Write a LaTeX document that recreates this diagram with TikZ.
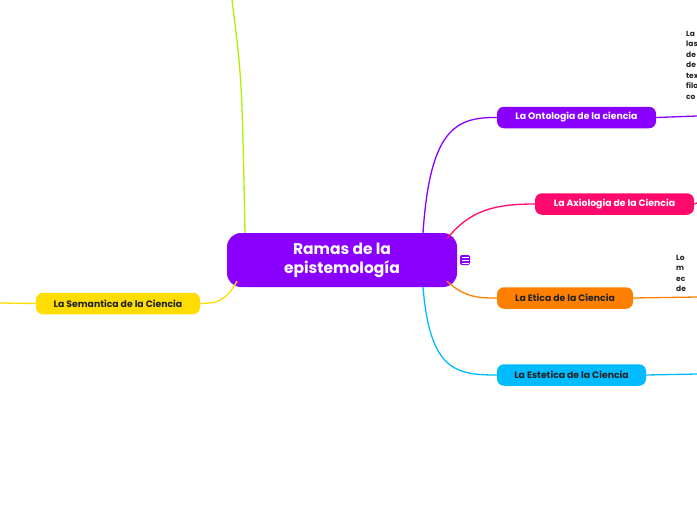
\documentclass[tikz,border=0pt]{standalone}
\usepackage{fontspec}
\setmainfont{Poppins}
\definecolor{morado}{HTML}{8A00FF}
\definecolor{rosa}{HTML}{FF0A6C}
\definecolor{naranja}{HTML}{FF8000}
\definecolor{celeste}{HTML}{00BCFF}
\definecolor{amarillo}{HTML}{FFDD00}
\definecolor{lima}{HTML}{B2F000}
\definecolor{tinta}{HTML}{222222}
\tikzset{
  rama/.style={rounded corners=7pt, minimum height=21.5pt, inner xsep=6pt,
    font=\fontsize{9.3}{11}\selectfont\bfseries},
  enlace/.style={line width=1.3pt},
}
\begin{document}
\begin{tikzpicture}[x=1pt, y=-1pt]
  \useasboundingbox (0,0) rectangle (697,520);
  \clip (0,0) rectangle (697,520);
  \fill[white] (0,0) rectangle (697,520);

  % === nodo central ===
  \node[fill=morado, text=white, rounded corners=14pt, minimum width=230pt, minimum height=54pt,
    align=center, font=\fontsize{15.5}{19}\selectfont\bfseries] (centro) at (342,260)
    {Ramas de la\\epistemología};
  \node[fill=morado, rounded corners=2pt, minimum size=10pt, inner sep=0pt] (icono) at (465,260) {};
  \draw[white, line width=0.6pt] (461.5,257) -- (468.5,257) (461.5,260) -- (468.5,260) (461.5,263) -- (468.5,263);

  % === ramas ===
  \node[rama, fill=morado, text=white, minimum width=159pt] (onto) at (576.5,117.5) {La Ontologia de la ciencia};
  \node[rama, fill=rosa, text=white, minimum width=159pt] (axio) at (614.5,204) {La Axiologia de la Ciencia};
  \node[rama, fill=naranja, text=tinta, minimum width=136pt] (etica) at (565,298) {La Etica de la Ciencia};
  \node[rama, fill=celeste, text=tinta, minimum width=149pt] (estet) at (571.5,375) {La Estetica de la Ciencia};
  \node[rama, fill=amarillo, text=tinta, minimum width=164pt] (seman) at (118,303.5) {La Semantica de la Ciencia};

  % extremos sueltos
  \coordinate (fOnto) at (697,116);
  \coordinate (fAxio) at (697,203);
  \coordinate (fEtica) at (697,297);
  \coordinate (fEstet) at (697,374);
  \coordinate (fSeman) at (0,303);
  \coordinate (fLima) at (232,0);

  % conectores
  \draw[enlace, morado] ([xshift=81pt]centro.north) .. controls (430,130) and (455,117) .. (onto.west);
  \draw[enlace, rosa] ([xshift=105pt,yshift=-6pt]centro.north) .. controls (470,210) and (495,204) .. (axio.west);
  \draw[enlace, naranja] ([xshift=105pt,yshift=6pt]centro.south) .. controls (465,298) and (480,298) .. (etica.west);
  \draw[enlace, celeste] ([xshift=81pt]centro.south) .. controls (430,370) and (455,375) .. (estet.west);
  \draw[enlace, amarillo] ([xshift=-105pt,yshift=6pt]centro.south) .. controls (225,303) and (215,303) .. (seman.east);
  \draw[enlace, lima] ([xshift=-97pt]centro.north) .. controls (242,80) .. (fLima);

  \draw[enlace, morado] (onto.east) -- (fOnto);
  \draw[enlace, rosa] (axio.east) -- (fAxio);
  \draw[enlace, naranja] (etica.east) -- (fEtica);
  \draw[enlace, celeste] (estet.east) -- (fEstet);
  \draw[enlace, amarillo] (seman.west) -- (fSeman);

  % textos cortados a la derecha
  \node[anchor=north west, align=left, inner sep=0pt, text=tinta,
    font=\fontsize{7.5}{10.5}\selectfont\bfseries] (notaOnto) at (686,31)
    {La\\las\\de\\de\\tex\\filo\\co};
  \node[anchor=north west, align=left, inner sep=0pt, text=tinta,
    font=\fontsize{7.5}{10.5}\selectfont\bfseries] (notaEtica) at (676,255)
    {Lo\\m\\ec\\de};
\end{tikzpicture}
\end{document}
